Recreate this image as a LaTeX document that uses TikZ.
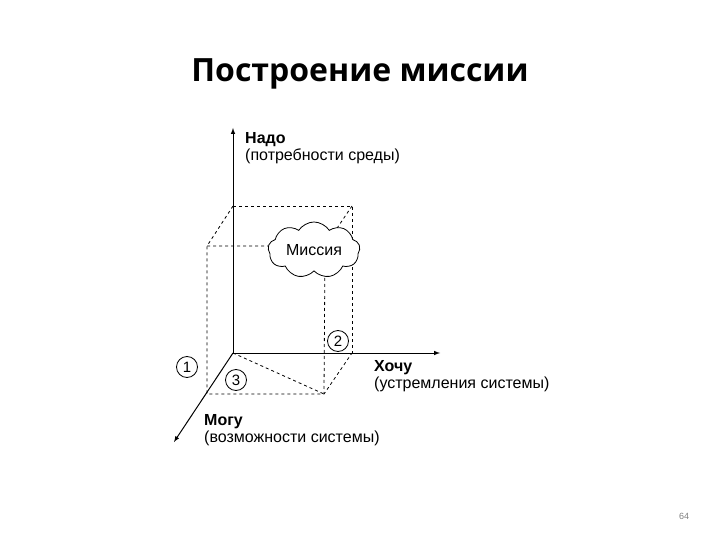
\documentclass[tikz,border=0pt]{standalone}
\usepackage{fontspec}
\setmainfont{Liberation Sans}
\newfontfamily\titlefont{Open Sans}
\usetikzlibrary{shapes.symbols}
\tikzset{
  axis/.style={line width=1pt, -latex},
  edge/.style={dashed, line width=0.8pt},
  num/.style={circle, draw, line width=0.8pt, inner sep=0pt, minimum size=21pt, font=\fontsize{15}{17}\selectfont},
  lbl/.style={anchor=west, align=left, inner sep=0pt, font=\fontsize{16}{17}\selectfont}
}
\begin{document}
\begin{tikzpicture}[x=1pt, y=-1pt]
            \useasboundingbox (0,0) rectangle (720,540);

            \node[font=\titlefont\bfseries\fontsize{32}{38}\selectfont] (title) at (360, 74) {Построение миссии};
            \node[font=\fontsize{9}{11}\selectfont, text=gray] (page) at (684, 516) {64};

            \coordinate (O) at (233, 353);
            \coordinate (Y) at (233, 128);
            \coordinate (X) at (440, 353);
            \coordinate (Z) at (174, 442);

            \coordinate (A) at (233, 206);
            \coordinate (B) at (352, 206);
            \coordinate (C) at (207, 246);
            \coordinate (G) at (325, 246);
            \coordinate (D) at (207, 394);
            \coordinate (E) at (324, 394);
            \coordinate (F) at (352, 353);

            \draw[edge] (A) -- (B) -- (F);
            \draw[edge] (A) -- (C) -- (D) -- (E) -- (F);
            \draw[edge] (C) -- (G) -- (E);
            \draw[edge] (B) -- (G);
            \draw[edge] (O) -- (E);

            \node[cloud, draw, line width=0.8pt, fill=white, cloud puffs=9, cloud puff arc=115,
                  aspect=1.8, minimum width=92pt, minimum height=54pt, inner sep=0pt,
                  font=\fontsize{16}{17}\selectfont] (mission) at (314, 250) {Миссия};

            \draw[axis] (O) -- (Y);
            \draw[axis] (O) -- (X);
            \draw[axis] (O) -- (Z);

            \node[num] (n1) at (187, 367) {1};
            \node[num] (n2) at (338, 341) {2};
            \node[num] (n3) at (236, 380) {3};

            \node[lbl] (need) at (245, 148) {\textbf{Надо}\\(потребности среды)};
            \node[lbl] (want) at (374, 376) {\textbf{Хочу}\\(устремления системы)};
            \node[lbl] (can) at (204, 430) {\textbf{Могу}\\(возможности системы)};
        \end{tikzpicture}
\end{document}
